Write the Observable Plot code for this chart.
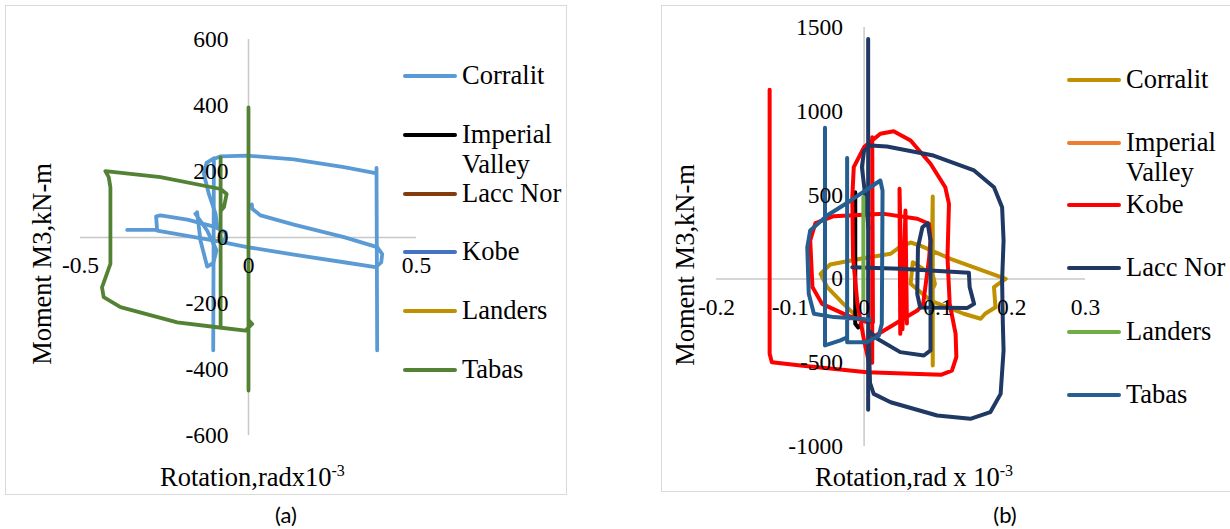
<!DOCTYPE html>
<html>
<head>
<meta charset="utf-8">
<script src="https://cdn.jsdelivr.net/npm/d3@7"></script>
<script src="https://cdn.jsdelivr.net/npm/@observablehq/plot@0.6"></script>
<style>
  html, body { margin: 0; padding: 0; background: #fff; }
  body { width: 1230px; height: 529px; overflow: hidden; position: relative; font-family: "Liberation Serif", "Times New Roman", serif; color: #000; }
  .panel { position: absolute; border: 1.5px solid #d9d9d9; box-sizing: border-box; }
  .plot { position: absolute; }
  .plot svg { overflow: visible; font-family: "Liberation Serif", "Times New Roman", serif; }
  .plot svg text { font-family: "Liberation Serif", "Times New Roman", serif !important; }
  .legline { position: absolute; height: 4.5px; border-radius: 2px; }
  .legtxt { position: absolute; white-space: nowrap; font-size: 26.5px; line-height: 26px; }
  .legtxt.two { line-height: 30px; }
  .ytitle { position: absolute; white-space: nowrap; font-size: 26.5px; line-height: 1; transform: translate(-50%, -50%) rotate(-90deg); }
  .xtitle { position: absolute; white-space: nowrap; font-size: 26.5px; line-height: 1; transform: translateY(-50%); }
  .xtitle sup { font-size: 16px; vertical-align: 0; position: relative; top: -10px; }
  .tag { position: absolute; font-family: Lato, "Open Sans", sans-serif; font-size: 22px; transform: translate(-50%, -50%); line-height: 1; }
</style>
</head>
<body>
<script>
// Series names shared by both panels (legend order = drawing order)
const seriesA = ["Corralit", "Imperial Valley", "Lacc Nor", "Kobe", "Landers", "Tabas"];
const seriesB = ["Corralit", "Imperial Valley", "Kobe", "Lacc Nor", "Landers", "Tabas"];
const colorsA = ["#5B9BD5", "#000000", "#843C0C", "#4472C4", "#BF9000", "#548235"];
const colorsB = ["#BF9000", "#ED7D31", "#FF0000", "#203864", "#70AD47", "#255E91"];

// Axis ticks
const xTicksA = [-0.5, 0, 0.5];
const yTicksA = [600, 400, 200, 0, -200, -400, -600];
const xTicksB = [-0.2, -0.1, 0, 0.1, 0.2, 0.3];
const yTicksB = [1500, 1000, 500, 0, -500, -1000];

// Panel (a): rotation (rad x 1e-3) vs moment M3 (kN-m), each series as loop pieces
const aCorralit = [
  [[-0.361, 23], [-0.272, 23], [-0.275, 64], [-0.262, 67], [-0.182, 54], [-0.103, 33], [-0.068, 16], [-0.068, -4], [-0.083, -14]],
  [[-0.272, 21], [-0.093, -11], [-0.004, -29], [0.135, -52], [0.284, -75], [0.378, -90], [0.395, -75], [0.398, -50], [0.383, -29], [0.284, 1], [0.135, 39], [0.036, 67], [0.011, 87], [0.010, 100]],
  [[0.381, 211], [0.383, -342]],
  [[0.378, 195], [0.284, 213], [0.135, 237], [-0.004, 248], [-0.083, 246], [-0.103, 238], [-0.105, -342]],
  [[-0.103, 240], [-0.125, 226], [-0.133, 193], [-0.118, 132], [-0.098, 72], [-0.093, 31]],
  [[-0.153, 77], [-0.143, -9], [-0.123, -88], [-0.105, -78], [-0.095, -39], [-0.123, 21], [-0.158, 72]]
];
const aImperialValley = [];
const aLaccNor = [];
const aKobe = [];
const aLanders = [];
const aTabas = [
  [[0, 394], [0, -464], [0, -250], [0.011, -262], [-0.009, -282], [-0.093, -272], [-0.212, -257], [-0.381, -211], [-0.431, -181], [-0.436, -151], [-0.411, -80], [-0.411, 152], [-0.416, 183], [-0.426, 201], [-0.262, 183], [-0.083, 147], [-0.065, 132], [-0.073, 92], [-0.083, 80], [-0.083, 243], [-0.083, -272]]
];

// Panel (b)
const bCorralit = [
  [[-0.009, -228], [-0.028, -149], [-0.050, -49], [-0.059, 30], [-0.046, 86], [-0.005, 120], [0.036, 150], [0.049, 193], [0.063, 217], [0.076, 199], [0.117, 120], [0.192, 0], [0.185, -20], [0.176, -49], [0.178, -169], [0.164, -208], [0.158, -238], [0.135, -208], [0.090, -129], [0.063, -29], [0.066, 100], [0.080, 60], [0.093, 25], [0.096, -30], [0.091, -80], [0.093, 492], [0.093, -517]]
];
const bUnlistedTrace = [
  [[-0.012, 517], [-0.012, -268], [-0.008, -290], [-0.004, -270]]
];
const bImperialValley = [];
const bKobe = [
  [[-0.128, 1128], [-0.128, -447], [-0.125, -497], [-0.086, -517], [0.004, -557], [0.104, -572], [0.119, -547], [0.125, -467], [0.124, -328], [0.116, -149], [0.113, 130], [0.115, 448], [0.110, 547], [0.090, 687], [0.063, 826], [0.040, 881], [0.022, 866], [0.000, 786], [-0.014, 667], [-0.016, 487], [-0.015, 130], [-0.009, -149], [0.000, -368], [0.006, -487], [0.011, -500], [0.011, 845], [0.012, -260], [0.004, -258], [-0.023, -218], [-0.057, -149], [-0.070, -49], [-0.073, 229], [-0.066, 333], [-0.041, 374], [0.027, 388], [0.072, 359], [0.088, 329], [0.090, 229], [0.088, 120], [0.080, -150], [0.072, -189], [0.009, -356]],
  [[0.049, -328], [0.048, 538], [0.052, -300], [0.056, 408], [0.058, -266]]
];
const bLaccNor = [
  [[0.0055, 1432], [0.0055, -781]],
  [[-0.016, 70], [0.049, 60], [0.142, 36], [0.143, -49], [0.149, -149], [0.140, -173], [0.076, -171], [0.072, -89], [0.073, 189], [0.079, 308], [0.086, 333], [0.090, 229], [0.090, -427], [0.081, -457], [0.049, -437], [0.018, -357], [0.006, -308], [0.008, -620], [0.013, -686], [0.036, -736], [0.099, -815], [0.144, -835], [0.171, -795], [0.185, -686], [0.189, -427], [0.188, -268], [0.187, -10], [0.189, 229], [0.187, 428], [0.176, 547], [0.149, 647], [0.094, 736], [0.031, 790], [0.009, 796], [0.000, 766], [-0.003, 667], [0.002, 480], [0.006, 300]]
];
const bLanders = [
  [[-0.001, 488], [-0.001, -125]]
];
const bTabas = [
  [[-0.053, 902], [-0.053, -397], [-0.032, -367], [-0.023, -348], [-0.023, 722], [-0.023, -378], [0.004, -378], [0.020, -338], [0.024, -268], [0.025, 527], [0.022, 587], [-0.018, 468], [-0.050, 378], [-0.073, 289], [-0.077, 189], [-0.075, -89], [-0.068, -208], [-0.041, -228], [-0.005, -238], [0.008, -245]]
];

const serif = '"Liberation Serif", "Times New Roman", serif';

// Flatten pieces into rows with a piece id so each piece is its own path
function rows(pieces, name) {
  const out = [];
  pieces.forEach((p, i) => p.forEach(([x, y]) => out.push({x, y, piece: name + i})));
  return out;
}

function hysteresisPlot({series, width, height, margins, xDomain, yDomain, xTicks, yTicks, strokeWidth, dxY, dyX}) {
  const marks = [
    Plot.ruleY([0], {stroke: "#c8c8c8", strokeWidth: 1.5}),
    Plot.ruleX([0], {stroke: "#c8c8c8", strokeWidth: 1.5})
  ];
  series.forEach(({name, pieces, color}) => {
    marks.push(Plot.line(rows(pieces, name), {
      x: "x", y: "y", z: "piece", stroke: color, strokeWidth,
      strokeLinejoin: "round", strokeLinecap: "round", curve: "linear"
    }));
  });
  marks.push(Plot.text(xTicks, {x: d => d, y: 0, text: d => String(d), dy: dyX, fontSize: 23.5, fontFamily: serif, fill: "#000"}));
  marks.push(Plot.text(yTicks, {x: 0, y: d => d, text: d => String(d), dx: dxY, textAnchor: "end", fontSize: 23.5, fontFamily: serif, fill: "#000"}));
  return Plot.plot({
    width, height,
    marginLeft: margins[0], marginRight: margins[1], marginTop: margins[2], marginBottom: margins[3],
    x: {domain: xDomain, axis: null},
    y: {domain: yDomain, axis: null},
    style: {fontFamily: serif, background: "transparent", overflow: "visible"},
    marks
  });
}

function place(el, left, top) {
  const wrap = document.createElement("div");
  wrap.className = "plot";
  wrap.style.left = left + "px";
  wrap.style.top = top + "px";
  wrap.appendChild(el);
  document.body.appendChild(wrap);
}

function addDiv(cls, html, style) {
  const d = document.createElement("div");
  d.className = cls;
  d.innerHTML = html;
  Object.assign(d.style, style);
  document.body.appendChild(d);
  return d;
}

// Panel frames
addDiv("panel", "", {left: "5px", top: "5px", width: "562px", height: "490px"});
addDiv("panel", "", {left: "661px", top: "5px", width: "620px", height: "487px"});

// Panel (a)
const dataA = [aCorralit, aImperialValley, aLaccNor, aKobe, aLanders, aTabas];
place(hysteresisPlot({
  series: seriesA.map((name, i) => ({name, pieces: dataA[i], color: colorsA[i]})),
  width: 561, height: 488, margins: [75, 150, 34, 58],
  xDomain: [-0.5, 0.5], yDomain: [-600, 600],
  xTicks: xTicksA, yTicks: yTicksA,
  strokeWidth: 3.8, dxY: -20, dyX: 28
}), 5, 5);

// Panel (b)
const dataB = [bCorralit, bImperialValley, bKobe, bLaccNor, bLanders, bTabas];
const seriesBDraw = [
  {name: "Corralit", pieces: bCorralit, color: colorsB[0]},
  {name: "Unlisted", pieces: bUnlistedTrace, color: "#000000"},
  ...seriesB.slice(1).map((name, i) => ({name, pieces: dataB[i + 1], color: colorsB[i + 1]}))
];
place(hysteresisPlot({
  series: seriesBDraw,
  width: 568, height: 486, margins: [54, 145, 22, 45],
  xDomain: [-0.2, 0.3], yDomain: [-1000, 1500],
  xTicks: xTicksB, yTicks: yTicksB,
  strokeWidth: 4, dxY: -21, dyX: 29
}), 662, 5);

// Legends
function legend(names, colors, lineLeft, rowsY) {
  names.forEach((name, i) => {
    const y = rowsY[i];
    addDiv("legline", "", {left: lineLeft + "px", top: (y - 2.25) + "px", width: "54px", background: colors[i]});
    if (name === "Imperial Valley") {
      addDiv("legtxt two", "Imperial<br>Valley", {left: (lineLeft + 59) + "px", top: (y - 16) + "px"});
    } else {
      addDiv("legtxt", name, {left: (lineLeft + 59) + "px", top: (y - 14) + "px"});
    }
  });
}
legend(seriesA, colorsA, 403, [76, 135, 194, 252, 311, 370]);
legend(seriesB, colorsB, 1067, [80, 143, 205, 268, 332, 395]);

// Axis titles
addDiv("ytitle", "Moment M3,kN-m", {left: "42px", top: "264px"});
addDiv("ytitle", "Moment M3,kN-m", {left: "685px", top: "265px"});
addDiv("xtitle", "Rotation,radx10<sup>-3</sup>", {left: "160px", top: "477px"});
addDiv("xtitle", "Rotation,rad x 10<sup>-3</sup>", {left: "815px", top: "477px"});

// Panel tags
addDiv("tag", "(a)", {left: "286px", top: "515px"});
addDiv("tag", "(b)", {left: "1005px", top: "515px"});
</script>
</body>
</html>
